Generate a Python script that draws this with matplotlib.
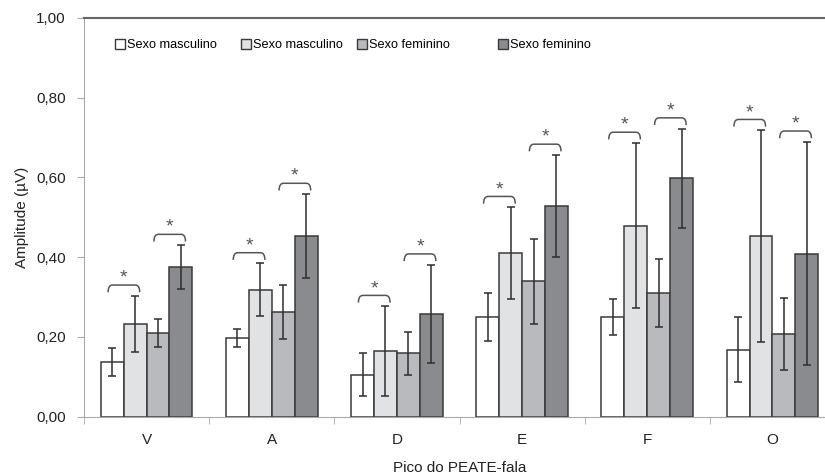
"""Grouped bar chart of PEATE-fala peak amplitudes by sex, with SD error bars."""

import matplotlib

matplotlib.use("Agg")
import matplotlib.pyplot as plt
import numpy as np
from matplotlib.legend import Legend
from matplotlib.patches import PathPatch, Patch
from matplotlib.path import Path
from matplotlib.ticker import FuncFormatter, FixedLocator

plt.rcParams["font.family"] = ["Liberation Sans", "DejaVu Sans"]

categories = ["V", "A", "D", "E", "F", "O"]
series_labels = ["Sexo masculino", "Sexo masculino", "Sexo feminino", "Sexo feminino"]

masc_1 = [0.137, 0.198, 0.105, 0.250, 0.249, 0.168]
masc_1_sd = [0.034, 0.023, 0.054, 0.060, 0.045, 0.081]
masc_2 = [0.233, 0.318, 0.164, 0.410, 0.479, 0.453]
masc_2_sd = [0.070, 0.066, 0.113, 0.115, 0.207, 0.265]
fem_1 = [0.209, 0.263, 0.159, 0.339, 0.310, 0.208]
fem_1_sd = [0.035, 0.068, 0.054, 0.107, 0.085, 0.090]
fem_2 = [0.375, 0.453, 0.258, 0.528, 0.597, 0.409]
fem_2_sd = [0.055, 0.105, 0.123, 0.128, 0.125, 0.280]

# significant pairs (series indices) within every category
sig_pairs = [(0, 1), (2, 3)]

colors = ["#ffffff", "#e1e2e4", "#b9babd", "#8a8b8e"]
edge = "#3a3a3a"

means = [masc_1, masc_2, fem_1, fem_2]
sds = [masc_1_sd, masc_2_sd, fem_1_sd, fem_2_sd]

fig = plt.figure(figsize=(8.25, 4.75), dpi=100)
ax = fig.add_axes([84 / 825, 1 - 416.7 / 475, 751 / 825, 399 / 475])

x = np.arange(len(categories))
width = 0.183
offsets = (np.arange(4) - 1.5) * width

for i in range(4):
    ax.bar(
        x + offsets[i],
        means[i],
        width=width,
        color=colors[i],
        edgecolor=edge,
        linewidth=1.1,
        zorder=2,
    )
    ax.errorbar(
        x + offsets[i],
        means[i],
        yerr=sds[i],
        fmt="none",
        ecolor="#2e2e2e",
        elinewidth=1.1,
        capsize=3,
        capthick=1.1,
        zorder=3,
    )


def bracket(ax, x0, x1, y, leg=0.018, r=0.035):
    verts = [
        (x0, y - leg),
        (x0, y),
        (x0 + r, y),
        (x1 - r, y),
        (x1, y),
        (x1, y - leg),
    ]
    codes = [Path.MOVETO, Path.CURVE3, Path.CURVE3, Path.LINETO, Path.CURVE3, Path.CURVE3]
    ax.add_patch(
        PathPatch(Path(verts, codes), fill=False, edgecolor="#555555", linewidth=1.1, zorder=4)
    )


for c in range(len(categories)):
    for a, b in sig_pairs:
        top = max(means[a][c] + sds[a][c], means[b][c] + sds[b][c]) + 0.027
        x0 = x[c] + offsets[a] - 0.18 * width
        x1 = x[c] + offsets[b] + 0.2 * width
        bracket(ax, x0, x1, top)
        ax.text(
            (x0 + x1) / 2,
            top - 0.004,
            "*",
            ha="center",
            va="bottom",
            fontsize=14,
            color="#555555",
        )

ax.set_xlim(-0.5, len(categories) - 0.5)
ax.set_ylim(0, 1.0)
ax.set_yticks(np.arange(0, 1.01, 0.2))
ax.yaxis.set_major_formatter(FuncFormatter(lambda v, _: f"{v:.2f}".replace(".", ",")))
ax.set_xticks(x)
ax.set_xticklabels(categories)
ax.xaxis.set_minor_locator(FixedLocator(np.arange(-0.5, len(categories), 1.0)))
ax.tick_params(axis="x", which="major", length=0, pad=11.5, labelsize=11, colors="#222222")
ax.tick_params(axis="x", which="minor", length=5, color="#aaaaaa", direction="out")
ax.tick_params(axis="y", length=5, color="#aaaaaa", labelsize=11, labelcolor="#222222", pad=8)

ax.spines["left"].set_color("#aaaaaa")
ax.spines["bottom"].set_color("#aaaaaa")
ax.spines["top"].set_color("#666666")
ax.spines["top"].set_linewidth(1.5)
ax.spines["right"].set_color("#666666")

ax.set_ylabel("Amplitude (\u00b5V)", fontsize=11, color="#222222", labelpad=5)
ax.set_xlabel("Pico do PEATE-fala", fontsize=11, color="#222222", labelpad=10)

legend_x = [0.041, 0.209, 0.3635, 0.551]
for i in range(4):
    handle = Patch(facecolor=colors[i], edgecolor=edge, linewidth=1.0)
    leg = Legend(
        ax,
        [handle],
        [series_labels[i]],
        loc="center left",
        bbox_to_anchor=(legend_x[i], 0.9316),
        frameon=False,
        fontsize=9.2,
        borderpad=0,
        borderaxespad=0,
        handlelength=0.8,
        handleheight=0.8,
        handletextpad=0.15,
    )
    ax.add_artist(leg)

fig.savefig("out.png", dpi=100)
